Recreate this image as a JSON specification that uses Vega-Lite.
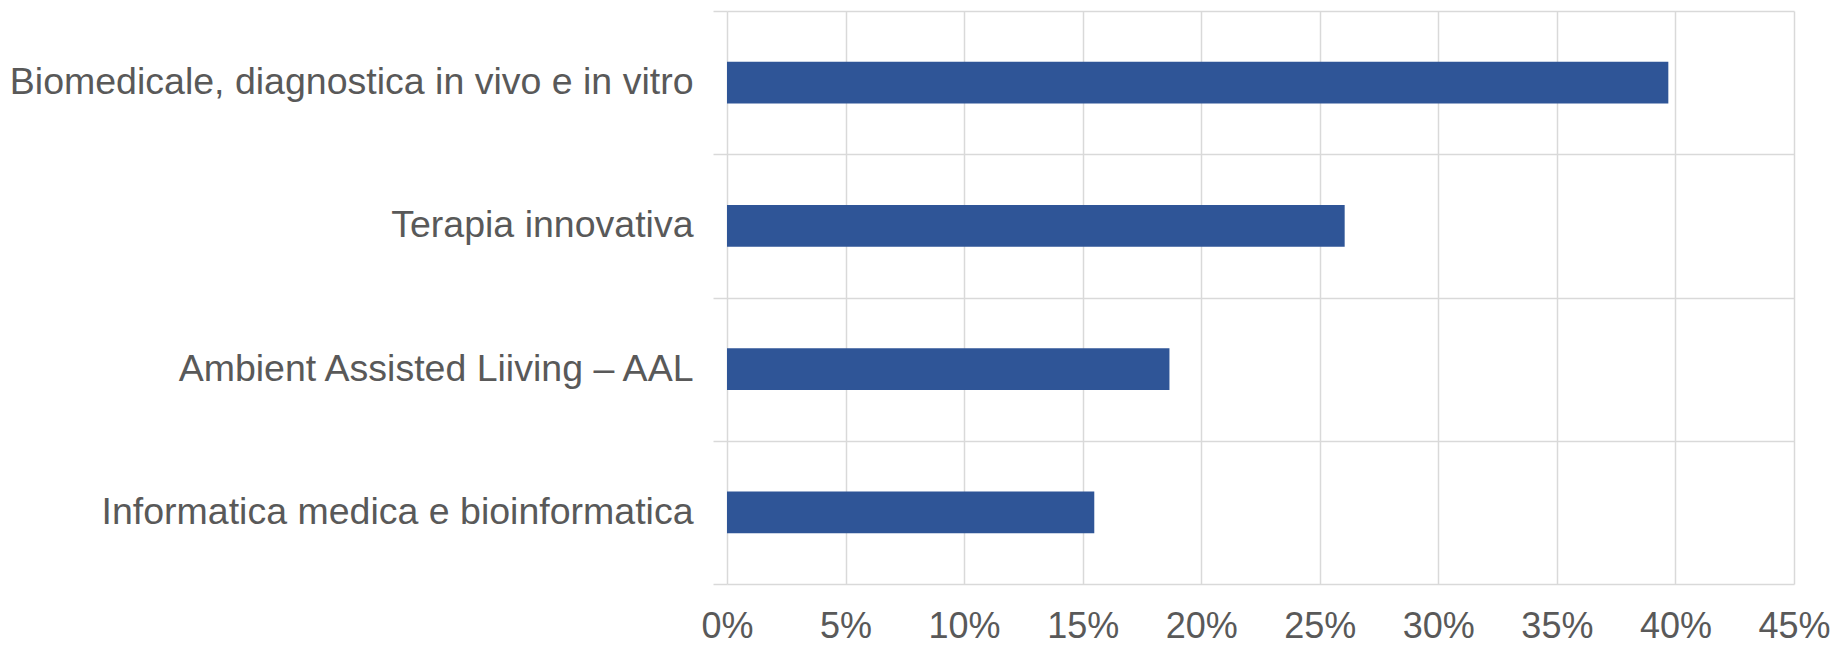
{
  "$schema": "https://vega.github.io/schema/vega-lite/v6.json",
  "width": 1067,
  "height": 573,
  "autosize": {"type": "none"},
  "padding": {"left": 727, "top": 11, "right": 49, "bottom": 63},
  "background": "white",
  "config": {"view": {"stroke": null}, "font": "Liberation Sans"},
  "data": {
    "values": [
      {"categoria": "Biomedicale, diagnostica in vivo e in vitro", "quota": 0.397},
      {"categoria": "Terapia innovativa", "quota": 0.2605},
      {"categoria": "Ambient Assisted Liiving – AAL", "quota": 0.1866},
      {"categoria": "Informatica medica e bioinformatica", "quota": 0.1549}
    ]
  },
  "mark": {"type": "bar", "color": "#2F5597", "height": {"band": 0.29}},
  "encoding": {
    "y": {
      "field": "categoria",
      "type": "nominal",
      "sort": null,
      "scale": {"paddingInner": 0, "paddingOuter": 0},
      "axis": {
        "title": null,
        "tickBand": "extent",
        "grid": true,
        "gridColor": "#D9D9D9",
        "gridWidth": 1.5,
        "domain": false,
        "ticks": true,
        "tickSize": 14,
        "tickColor": "#D9D9D9",
        "tickWidth": 1.5,
        "labelFontSize": 37.5,
        "labelColor": "#595959",
        "labelPadding": 20,
        "labelFont": "Liberation Sans",
        "labelLimit": 0,
        "encode": {
          "labels": {
            "update": {
              "dx": {"signal": "datum.value === 'Informatica medica e bioinformatica' ? -9 : 0"}
            }
          }
        }
      }
    },
    "x": {
      "field": "quota",
      "type": "quantitative",
      "scale": {"domain": [0, 0.45], "nice": false},
      "axis": {
        "title": null,
        "values": [0, 0.05, 0.1, 0.15, 0.2, 0.25, 0.3, 0.35, 0.4, 0.45],
        "format": ".0%",
        "grid": true,
        "gridColor": "#D9D9D9",
        "gridWidth": 1.5,
        "domain": false,
        "ticks": false,
        "labelFontSize": 36,
        "labelColor": "#595959",
        "labelFont": "Liberation Sans",
        "labelPadding": 25,
        "labelFlush": false
      }
    }
  }
}
